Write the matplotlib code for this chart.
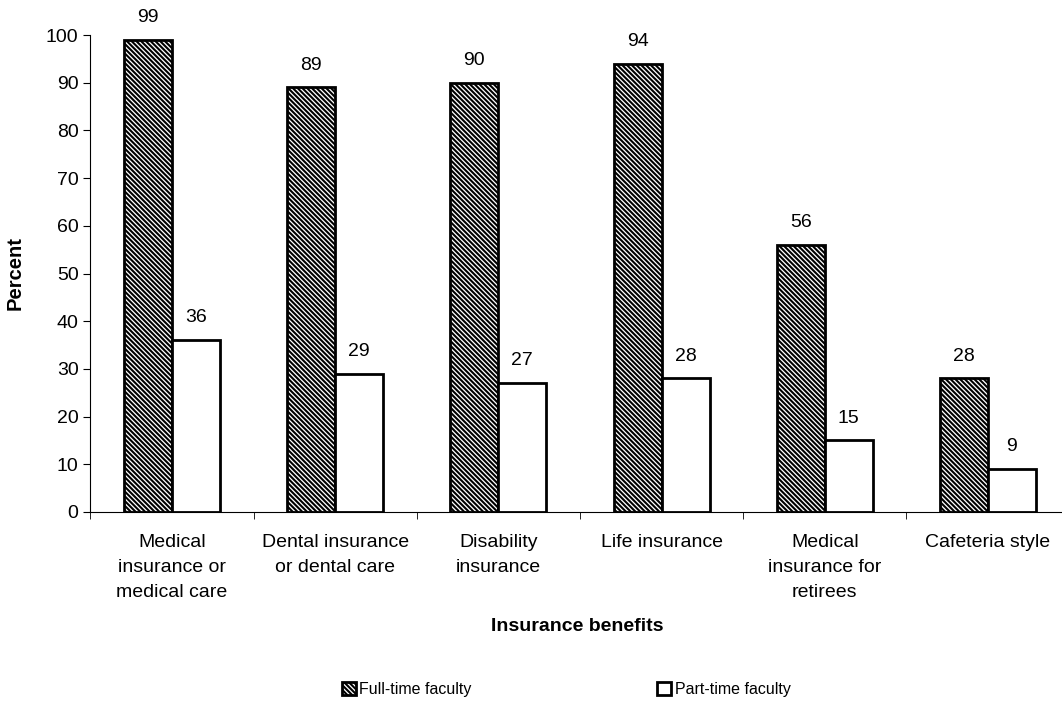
import numpy as np
import matplotlib.pyplot as plt

plt.rcParams['font.family'] = ['Liberation Sans', 'DejaVu Sans']
plt.rcParams['hatch.linewidth'] = 1.5

categories = ["Medical\ninsurance or\nmedical care", "Dental insurance\nor dental care",
              "Disability\ninsurance", "Life insurance",
              "Medical\ninsurance for\nretirees", "Cafeteria style"]
full_time = [99, 89, 90, 94, 56, 28]
part_time = [36, 29, 27, 28, 15, 9]
series_names = ["Full-time faculty", "Part-time faculty"]

fig = plt.figure(figsize=(10.62, 7.06), dpi=100)
# the plot area runs slightly past the right edge, as in the scanned original
ax = fig.add_axes([0.0851, 0.2748, 0.922, 0.6756])

x = np.arange(len(categories))
w = 0.294
b1 = ax.bar(x - w / 2, full_time, w, facecolor="white", edgecolor="black",
            hatch="\\" * 7, linewidth=2.0, label=series_names[0])
b2 = ax.bar(x + w / 2, part_time, w, facecolor="white", edgecolor="black",
            linewidth=2.0, label=series_names[1])

for bars, vals in ((b1, full_time), (b2, part_time)):
    for r, v in zip(bars, vals):
        ax.annotate(str(v), (r.get_x() + r.get_width() / 2, v), xytext=(0, 10),
                    textcoords="offset points", ha="center", va="bottom", fontsize=14)

ax.set_xlim(-0.5, len(categories) - 0.5)
ax.set_ylim(0, 100)
ax.set_yticks(range(0, 101, 10))
ax.tick_params(axis="y", labelsize=14, length=5)
ax.set_xticks(x)
ax.set_xticklabels(categories, fontsize=14, linespacing=1.6)
ax.tick_params(axis="x", length=0, pad=16)
ax.set_xticks(np.arange(-0.5, len(categories), 1), minor=True)
ax.tick_params(axis="x", which="minor", length=5, direction="out")
for s in ("top", "right"):
    ax.spines[s].set_visible(False)
ax.set_ylabel("Percent", fontsize=14.5, fontweight="bold")
ax.yaxis.set_label_coords(-0.067, 0.5)
ax.set_xlabel("Insurance benefits", fontsize=14, fontweight="bold")
ax.xaxis.set_label_coords(0.497, -0.222)

fig.legend(handles=[b1, b2], loc="center", bbox_to_anchor=(0.533, 0.023), ncol=2,
           frameon=False, fontsize=11.5, handlelength=0.9, handleheight=0.9,
           handletextpad=0.2, columnspacing=11.6)

fig.savefig("out.png", dpi=100)
